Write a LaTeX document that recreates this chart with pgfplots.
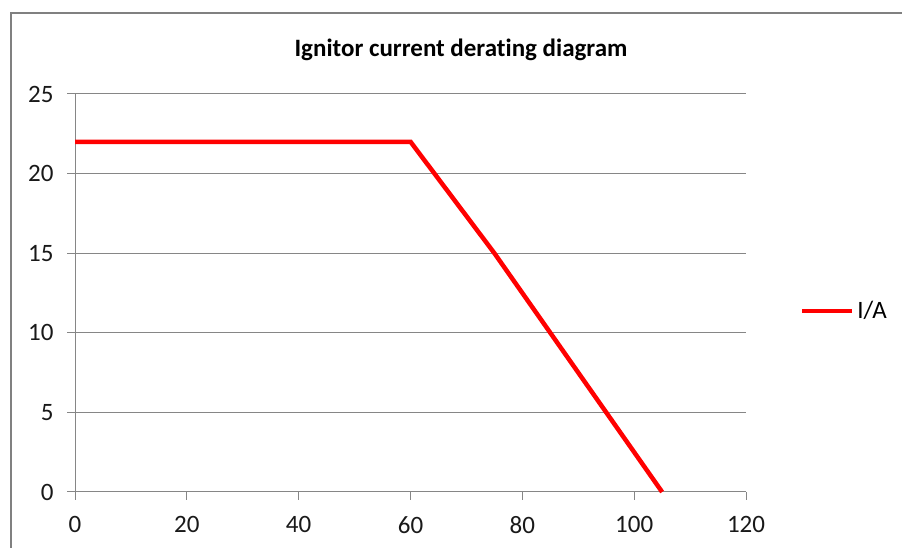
\documentclass[border=0pt]{standalone}
\usepackage{fontspec}
\setmainfont{Carlito}[Ligatures=NoCommon]
\usepackage{pgfplots}
\pgfplotsset{compat=1.18}
\definecolor{gridc}{RGB}{134,134,134}
\definecolor{framec}{RGB}{128,128,128}
\definecolor{redline}{RGB}{255,0,0}
\begin{document}
\begin{tikzpicture}[x=1pt,y=1pt]
\path[use as bounding box] (0,0) rectangle (902,548);
\draw[framec, line width=2.5pt] (11,-10) -- (11,535) -- (915,535);
\node[anchor=base, font=\bfseries\fontsize{25}{29}\selectfont] at (461,491) {Ignitor current derating diagram};
\begin{axis}[
  at={(75pt,56pt)}, anchor=south west,
  scale only axis, width=671pt, height=398pt,
  xmin=0, xmax=120, ymin=0, ymax=25,
  xtick={0,20,...,120}, ytick={0,5,...,25},
  axis x line*=bottom, axis y line*=left,
  axis line style={gridc, line width=1pt, -},
  ymajorgrids, grid style={gridc, line width=1pt},
  tick align=outside, major tick length=8pt,
  tick style={gridc, line width=1pt},
  ticklabel style={font=\fontsize{25}{29}\selectfont, text=black!90},
  /pgf/number format/assume math mode=true,
  xticklabel shift={13pt},
  yticklabel shift={10pt},
  legend style={at={(1.08,0.455)}, anchor=west, draw=none, fill=none,
    font=\fontsize{25}{29}\selectfont, inner sep=0pt,
    nodes={inner xsep=3pt}},
  legend image code/.code={\draw[#1] (0pt,0pt) -- (50pt,0pt);},
  clip=false,
]
\addplot[redline, line width=4.5pt, line join=miter] coordinates {
  (0,22) (60,22) (75,15) (105,0)
};
\addlegendentry{I/A}
\end{axis}
\end{tikzpicture}
\end{document}
